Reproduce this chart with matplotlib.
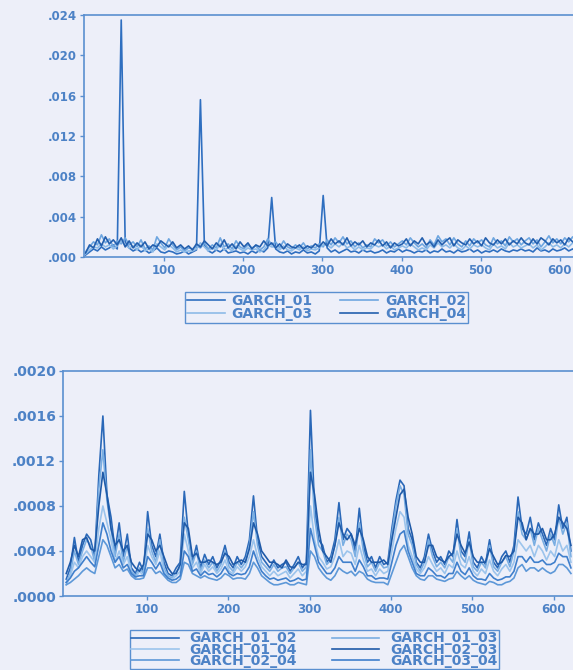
import numpy as np
import matplotlib
matplotlib.use("Agg")
import matplotlib.pyplot as plt
from matplotlib.ticker import FuncFormatter, FixedLocator

# ---------------- data ----------------
# observation index step used for the readings
obs_step = 5
obs_start = 1

# Top panel: conditional variances, units of 1e-3
garch_01 = [0.2, 0.5, 0.8, 0.6, 1.0, 0.7, 0.9, 1.2, 0.8, 23.5,
            1.5, 0.9, 0.6, 0.8, 0.5, 0.7, 0.4, 0.6, 0.9, 0.5,
            0.4, 0.6, 0.5, 0.3, 0.4, 0.6, 0.3, 0.5, 0.7, 15.6,
            1.2, 0.6, 0.4, 0.7, 0.5, 0.8, 0.4, 0.5, 0.6, 0.4,
            0.5, 0.3, 0.6, 0.4, 0.7, 0.5, 0.9, 5.9, 0.8, 0.5,
            0.4, 0.6, 0.3, 0.5, 0.4, 0.7, 0.4, 0.5, 0.3, 0.6,
            6.1, 0.9, 0.5, 0.7, 0.4, 0.6, 0.8, 0.5, 0.6, 0.4,
            0.7, 0.5, 0.6, 0.4, 0.5, 0.7, 0.4, 0.6, 0.5, 0.8,
            0.5, 0.7, 0.6, 0.4, 0.6, 0.5, 0.7, 0.4, 0.6, 0.5,
            0.8, 0.5, 0.6, 0.4, 0.7, 0.5, 0.6, 0.8, 0.5, 0.7,
            0.4, 0.6, 0.5, 0.7, 0.5, 0.8, 0.6, 0.5, 0.7, 0.6,
            0.8, 0.6, 0.7, 0.5, 0.9, 0.6, 0.7, 0.5, 0.8, 0.6,
            0.7, 0.9, 0.6, 0.8, 0.5]
garch_02 = [0.5, 1.0, 1.5, 1.2, 2.2, 1.4, 1.8, 1.0, 1.6, 1.3,
            1.9, 1.2, 1.5, 1.0, 1.7, 0.8, 1.1, 0.7, 2.0, 1.4,
            0.9, 1.8, 1.2, 0.7, 1.0, 0.6, 0.9, 0.8, 1.1, 0.9,
            1.4, 0.8, 1.2, 0.9, 1.9, 1.0, 1.3, 0.8, 1.6, 1.0,
            0.8, 1.2, 0.9, 1.1, 0.7, 1.0, 1.8, 1.2, 1.5, 0.9,
            1.6, 1.0, 0.8, 1.2, 0.9, 1.4, 0.8, 1.1, 0.9, 1.3,
            1.0, 1.7, 1.2, 1.9, 1.4, 2.0, 1.3, 1.6, 1.0, 1.4,
            0.9, 1.2, 1.0, 1.8, 1.4, 1.7, 1.1, 1.5, 1.0, 1.3,
            1.6, 1.2, 1.9, 1.4, 1.0, 1.3, 0.9, 1.7, 1.2, 2.1,
            1.5, 1.8, 1.2, 1.9, 1.3, 1.0, 1.6, 1.1, 1.8, 1.4,
            1.7, 1.2, 1.0, 1.9, 1.3, 1.6, 1.1, 2.0, 1.5, 1.8,
            1.2, 1.6, 1.9, 1.3, 1.7, 1.0, 1.5, 2.1, 1.4, 1.8,
            1.3, 1.9, 1.5, 2.0, 1.4]
garch_03 = [0.3, 0.7, 1.0, 0.9, 1.3, 1.0, 1.2, 0.8, 1.1, 1.6,
            1.2, 0.9, 1.1, 0.7, 1.2, 0.6, 0.8, 0.5, 1.3, 1.0,
            0.7, 1.2, 0.9, 0.5, 0.7, 0.5, 0.6, 0.6, 0.8, 1.4,
            1.0, 0.6, 0.9, 0.7, 1.3, 0.7, 0.9, 0.6, 1.1, 0.8,
            0.6, 0.9, 0.7, 0.8, 0.5, 0.7, 1.2, 1.0, 1.0, 0.7,
            1.1, 0.7, 0.6, 0.9, 0.7, 1.0, 0.6, 0.8, 0.7, 0.9,
            1.2, 1.2, 0.9, 1.3, 1.0, 1.4, 0.9, 1.1, 0.7, 1.0,
            0.7, 0.9, 0.8, 1.2, 1.0, 1.2, 0.8, 1.1, 0.7, 0.9,
            1.1, 0.9, 1.3, 1.0, 0.7, 0.9, 0.7, 1.2, 0.9, 1.4,
            1.0, 1.2, 0.9, 1.3, 0.9, 0.7, 1.1, 0.8, 1.2, 1.0,
            1.2, 0.9, 0.7, 1.3, 0.9, 1.1, 0.8, 1.4, 1.0, 1.2,
            0.9, 1.1, 1.3, 0.9, 1.2, 0.7, 1.0, 1.4, 1.0, 1.2,
            0.9, 1.3, 1.0, 1.4, 1.0]
garch_04 = [0.4, 1.2, 0.9, 1.8, 1.1, 2.0, 1.3, 1.7, 1.2, 1.9,
            1.0, 1.6, 0.9, 1.4, 1.0, 1.5, 0.8, 1.2, 1.0, 1.6,
            1.3, 1.0, 1.5, 0.9, 1.2, 0.8, 1.1, 0.7, 1.3, 1.0,
            1.6, 1.2, 0.8, 1.4, 1.0, 1.7, 0.9, 1.3, 0.8, 1.5,
            1.0, 1.4, 0.8, 1.2, 1.0, 1.6, 1.1, 1.4, 0.9, 1.3,
            0.8, 1.3, 1.0, 0.9, 1.2, 0.8, 1.1, 0.9, 1.3, 1.0,
            1.5, 1.1, 1.8, 1.3, 1.6, 1.2, 1.9, 1.1, 1.5, 1.2,
            1.6, 1.0, 1.4, 1.2, 1.7, 1.1, 1.5, 0.9, 1.4, 1.1,
            1.3, 1.8, 1.1, 1.6, 1.3, 1.9, 1.2, 1.5, 1.0, 1.7,
            1.2, 1.6, 1.9, 1.1, 1.7, 1.4, 1.2, 1.8, 1.3, 1.6,
            1.1, 1.9, 1.4, 1.2, 1.7, 1.3, 1.8, 1.2, 1.6, 1.3,
            1.9, 1.4, 1.2, 1.8, 1.3, 1.9, 1.6, 1.2, 1.8, 1.4,
            1.7, 1.2, 1.9, 1.5, 1.7]

# Bottom panel: conditional covariances, units of 1e-4
garch_01_02 = [1.5, 2.5, 5.2, 3.0, 4.5, 5.5, 5.0, 3.5, 10.7, 16.0,
               9.0, 7.0, 4.0, 6.5, 3.5, 5.5, 2.5, 2.0, 3.0, 2.2,
               7.5, 4.5, 3.5, 5.5, 3.0, 2.0, 1.8, 2.5, 3.0, 9.3,
               5.5, 3.0, 4.5, 2.5, 3.7, 2.8, 3.5, 2.5, 3.2, 4.5,
               3.0, 2.5, 3.5, 2.8, 3.5, 5.0, 8.9, 5.0, 3.5, 3.0,
               2.5, 3.2, 2.5, 2.8, 3.0, 2.2, 2.8, 3.5, 2.5, 3.0,
               16.5, 8.0, 5.0, 4.5, 3.0, 3.5, 5.0, 8.3, 5.0, 6.0,
               5.5, 4.0, 7.8, 4.5, 3.0, 3.5, 2.5, 3.5, 2.8, 3.0,
               6.0, 8.5, 10.3, 9.8, 6.0, 5.0, 3.0, 2.5, 3.5, 5.5,
               4.0, 3.0, 3.5, 2.8, 4.0, 3.5, 6.8, 4.0, 3.5, 5.7,
               3.0, 2.5, 3.5, 2.8, 5.0, 3.0, 2.5, 3.5, 4.0, 3.0,
               4.5, 8.8, 6.0, 5.5, 7.0, 5.0, 6.5, 5.5, 4.5, 6.0,
               5.0, 8.1, 6.0, 7.0, 4.0]
garch_01_03 = [1.2, 2.0, 4.0, 2.8, 4.0, 5.0, 4.5, 3.0, 9.5, 13.0,
               8.5, 6.0, 3.5, 5.5, 3.0, 4.5, 2.2, 1.8, 2.5, 2.0,
               6.0, 4.0, 3.0, 5.0, 2.5, 1.8, 1.6, 2.2, 2.5, 7.0,
               5.0, 2.8, 4.0, 2.2, 3.2, 2.5, 3.0, 2.2, 2.8, 4.0,
               2.6, 2.2, 3.0, 2.5, 3.0, 4.5, 7.5, 4.5, 3.0, 2.6,
               2.2, 2.8, 2.2, 2.5, 2.6, 2.0, 2.5, 3.0, 2.2, 2.6,
               13.0, 7.0, 4.5, 4.0, 2.8, 3.2, 4.5, 7.0, 4.5, 5.5,
               5.0, 3.5, 6.5, 4.0, 2.6, 3.0, 2.2, 3.0, 2.5, 2.6,
               5.5, 8.0, 9.8, 9.0, 5.5, 4.5, 2.8, 2.2, 3.0, 5.0,
               3.5, 2.6, 3.0, 2.5, 3.5, 3.0, 6.0, 3.5, 3.0, 5.0,
               2.6, 2.2, 3.0, 2.5, 4.5, 2.6, 2.2, 3.0, 3.5, 2.6,
               4.0, 7.5, 5.5, 5.0, 6.0, 4.5, 6.0, 5.0, 4.0, 5.5,
               4.5, 7.0, 5.5, 6.5, 3.5]
garch_01_04 = [1.0, 1.8, 3.0, 2.5, 3.5, 4.0, 3.5, 3.0, 6.0, 8.0,
               6.5, 5.0, 3.0, 4.0, 2.8, 3.5, 2.0, 1.6, 2.2, 1.8,
               4.5, 3.5, 2.8, 4.0, 2.2, 1.6, 1.5, 1.8, 2.2, 5.5,
               4.0, 2.5, 3.0, 2.0, 2.8, 2.2, 2.6, 2.0, 2.4, 3.2,
               2.2, 2.0, 2.6, 2.2, 2.6, 3.5, 5.0, 3.5, 2.6, 2.2,
               1.8, 2.2, 1.8, 2.0, 2.2, 1.6, 2.0, 2.4, 1.8, 2.2,
               8.0, 5.0, 3.5, 3.0, 2.4, 2.6, 3.5, 5.0, 3.5, 4.0,
               3.8, 2.8, 4.5, 3.2, 2.2, 2.4, 1.8, 2.4, 2.0, 2.2,
               4.0, 6.0, 7.5, 7.0, 4.5, 3.5, 2.4, 2.0, 2.5, 3.5,
               2.8, 2.2, 2.5, 2.0, 2.8, 2.5, 4.0, 2.8, 2.5, 3.5,
               2.2, 1.8, 2.4, 2.0, 3.2, 2.2, 1.8, 2.4, 2.8, 2.2,
               3.0, 5.0, 4.5, 4.0, 4.5, 3.5, 4.5, 4.0, 3.2, 4.0,
               3.5, 5.0, 4.0, 4.5, 3.0]
garch_02_03 = [2.0, 3.0, 4.5, 3.5, 5.0, 5.2, 4.2, 4.0, 8.0, 11.0,
               9.0, 6.0, 4.5, 5.0, 4.0, 4.5, 3.0, 2.5, 2.2, 2.8,
               5.5, 5.0, 4.0, 4.5, 3.5, 2.5, 2.0, 2.0, 2.8, 6.5,
               6.0, 3.5, 3.8, 3.0, 3.0, 3.2, 3.0, 2.8, 3.0, 3.8,
               3.5, 2.8, 3.0, 3.2, 3.0, 4.2, 6.5, 5.5, 4.0, 3.5,
               3.0, 3.0, 2.8, 2.5, 3.2, 2.6, 2.5, 3.0, 2.8, 2.8,
               11.0, 9.0, 6.0, 4.0, 3.5, 3.0, 4.5, 6.5, 5.5, 5.0,
               5.5, 4.5, 6.0, 5.0, 3.5, 3.0, 3.0, 3.0, 3.2, 2.8,
               5.0, 7.0, 9.0, 9.5, 7.0, 5.5, 3.5, 3.0, 3.0, 4.5,
               4.5, 3.5, 3.2, 3.0, 3.5, 3.8, 5.5, 4.5, 3.8, 4.8,
               3.5, 3.0, 3.0, 3.0, 4.2, 3.5, 2.8, 3.0, 3.6, 3.5,
               4.0, 7.0, 6.5, 5.0, 6.0, 5.5, 5.5, 6.0, 5.0, 5.0,
               5.5, 7.0, 6.5, 6.0, 4.5]
garch_02_04 = [1.0, 1.2, 1.5, 1.8, 2.2, 2.5, 2.2, 2.0, 3.5, 5.0,
               4.5, 3.5, 2.5, 2.8, 2.2, 2.4, 1.8, 1.5, 1.5, 1.6,
               2.5, 2.5, 2.0, 2.2, 1.8, 1.4, 1.2, 1.2, 1.5, 3.0,
               2.8, 2.0, 1.8, 1.6, 1.8, 1.6, 1.5, 1.4, 1.6, 2.0,
               1.8, 1.5, 1.6, 1.6, 1.5, 2.0, 3.0, 2.5, 1.8, 1.5,
               1.2, 1.0, 1.0, 1.1, 1.2, 1.0, 1.0, 1.2, 1.1, 1.0,
               4.0, 3.5, 2.5, 2.0, 1.6, 1.4, 1.8, 2.5, 2.2, 2.0,
               2.2, 1.8, 2.2, 2.0, 1.5, 1.3, 1.2, 1.2, 1.2, 1.0,
               2.0, 3.0, 4.0, 4.5, 3.5, 2.5, 1.8, 1.5, 1.4, 1.8,
               1.8, 1.5, 1.4, 1.3, 1.5, 1.6, 2.2, 1.8, 1.5, 1.8,
               1.4, 1.2, 1.1, 1.0, 1.3, 1.2, 1.0, 1.0, 1.2, 1.3,
               1.6, 2.5, 2.8, 2.2, 2.5, 2.5, 2.2, 2.5, 2.2, 2.0,
               2.2, 2.8, 2.8, 2.5, 2.0]
garch_03_04 = [1.2, 1.6, 2.2, 2.5, 3.0, 3.5, 3.0, 2.6, 4.5, 6.5,
               5.5, 4.0, 3.0, 3.5, 2.5, 2.8, 2.0, 1.7, 1.8, 1.8,
               3.5, 3.0, 2.4, 3.0, 2.0, 1.6, 1.4, 1.5, 1.8, 4.0,
               3.5, 2.2, 2.4, 1.8, 2.2, 1.9, 2.0, 1.7, 2.0, 2.6,
               2.0, 1.8, 2.0, 1.9, 2.0, 2.6, 4.0, 3.0, 2.2, 1.8,
               1.5, 1.6, 1.4, 1.5, 1.6, 1.3, 1.4, 1.6, 1.4, 1.5,
               6.0, 4.5, 3.0, 2.5, 2.0, 2.0, 2.5, 3.5, 3.0, 3.0,
               3.0, 2.2, 3.2, 2.6, 1.8, 1.8, 1.5, 1.6, 1.6, 1.5,
               3.0, 4.5, 5.5, 5.8, 4.0, 3.0, 2.0, 1.8, 1.8, 2.5,
               2.2, 1.8, 1.8, 1.6, 2.0, 2.0, 3.0, 2.2, 1.9, 2.5,
               1.8, 1.5, 1.5, 1.4, 2.0, 1.6, 1.4, 1.5, 1.7, 1.7,
               2.2, 3.5, 3.5, 3.0, 3.5, 3.0, 3.0, 3.2, 2.8, 2.8,
               3.0, 3.8, 3.5, 3.5, 2.5]

top_names = ["GARCH_01", "GARCH_02", "GARCH_03", "GARCH_04"]
top_series = [garch_01, garch_02, garch_03, garch_04]
bot_names = ["GARCH_01_02", "GARCH_01_03", "GARCH_01_04",
             "GARCH_02_03", "GARCH_02_04", "GARCH_03_04"]
bot_series = [garch_01_02, garch_01_03, garch_01_04,
              garch_02_03, garch_02_04, garch_03_04]

top_yticks = [0.000, 0.004, 0.008, 0.012, 0.016, 0.020, 0.024]
bot_yticks = [0.0000, 0.0004, 0.0008, 0.0012, 0.0016, 0.0020]
xticks = [100, 200, 300, 400, 500, 600]

# ---------------- style ----------------
W, H = 573, 670
DPI = 100
bg = "#edeff9"
ink = "#4d82c6"
spine_c = "#5a8fd0"
top_colors = ["#2f6fc0", "#6ea6e0", "#8dbbe8", "#235fae"]
bot_colors = ["#2a68b8", "#7aaee2", "#9cc4ec", "#1f5aa8", "#5d98d8", "#3f7fcc"]

fig = plt.figure(figsize=(W / DPI, H / DPI), dpi=DPI, facecolor=bg)


def px_axes(left, top, right, bottom):
    return fig.add_axes([left / W, 1 - bottom / H, (right - left) / W, (bottom - top) / H])


def style_axes(ax, ytick_size):
    ax.set_facecolor(bg)
    for s in ax.spines.values():
        s.set_color(spine_c)
        s.set_linewidth(1.2)
    ax.tick_params(axis="both", colors=spine_c, direction="out", length=3, width=1)
    ax.tick_params(axis="x", labelsize=8.5, labelcolor=ink, pad=2)
    ax.tick_params(axis="y", labelsize=ytick_size, labelcolor=ink, pad=2)
    for t in ax.get_yticklabels() + ax.get_xticklabels():
        t.set_fontweight("bold")


def row_major(items, ncol=2):
    # legend fills column-wise; reorder so entries read across rows
    nrow = (len(items) + ncol - 1) // ncol
    return [items[r * ncol + c] for c in range(ncol) for r in range(nrow)
            if r * ncol + c < len(items)]


# ---------------- top panel ----------------
ax1 = px_axes(84, 15, 84 + 628 * 0.792, 257)
for name, vals, col in zip(top_names, top_series, top_colors):
    xs = obs_start + obs_step * np.arange(len(vals))
    ax1.plot(xs, np.array(vals) * 1e-3, color=col, lw=1.2, label=name)
ax1.set_xlim(-1, 627)
ax1.set_ylim(0, 0.024)
ax1.yaxis.set_major_locator(FixedLocator(top_yticks))
ax1.yaxis.set_major_formatter(FuncFormatter(lambda v, p: f"{v:.3f}".lstrip("0")))
ax1.xaxis.set_major_locator(FixedLocator(xticks))
style_axes(ax1, 8.5)

h1 = row_major(ax1.get_lines())
leg1 = fig.legend(handles=h1, labels=[h.get_label() for h in h1], ncol=2,
                  loc="upper left", bbox_to_anchor=(185 / W, 1 - 292 / H),
                  frameon=True, fancybox=False, edgecolor=spine_c, facecolor=bg,
                  framealpha=1, borderpad=0.15, labelspacing=-0.08,
                  handlelength=2.7, handletextpad=0.5, columnspacing=2.0,
                  borderaxespad=0,
                  prop={"size": 10, "weight": "bold"})
leg1.get_frame().set_linewidth(1.0)
for t in leg1.get_texts():
    t.set_color(ink)

# ---------------- bottom panel ----------------
ax2 = px_axes(63, 371, 63 + 636 * 0.814, 596)
for name, vals, col in zip(bot_names, bot_series, bot_colors):
    xs = obs_start + obs_step * np.arange(len(vals))
    ax2.plot(xs, np.array(vals) * 1e-4, color=col, lw=1.2, label=name)
ax2.set_xlim(-3, 633)
ax2.set_ylim(0, 0.0020)
ax2.yaxis.set_major_locator(FixedLocator(bot_yticks))
ax2.yaxis.set_major_formatter(FuncFormatter(lambda v, p: f"{v:.4f}".lstrip("0")))
ax2.xaxis.set_major_locator(FixedLocator(xticks))
style_axes(ax2, 10)

h2 = row_major(ax2.get_lines())
leg2 = fig.legend(handles=h2, labels=[h.get_label() for h in h2], ncol=2,
                  loc="upper left", bbox_to_anchor=(130 / W, 1 - 630 / H),
                  frameon=True, fancybox=False, edgecolor=spine_c, facecolor=bg,
                  framealpha=1, borderpad=0.1, labelspacing=-0.2,
                  handlelength=3.4, handletextpad=0.8, columnspacing=2.5,
                  borderaxespad=0,
                  prop={"size": 10, "weight": "bold"})
leg2.get_frame().set_linewidth(1.0)
for t in leg2.get_texts():
    t.set_color(ink)

fig.savefig("out.png", dpi=DPI, facecolor=bg)
